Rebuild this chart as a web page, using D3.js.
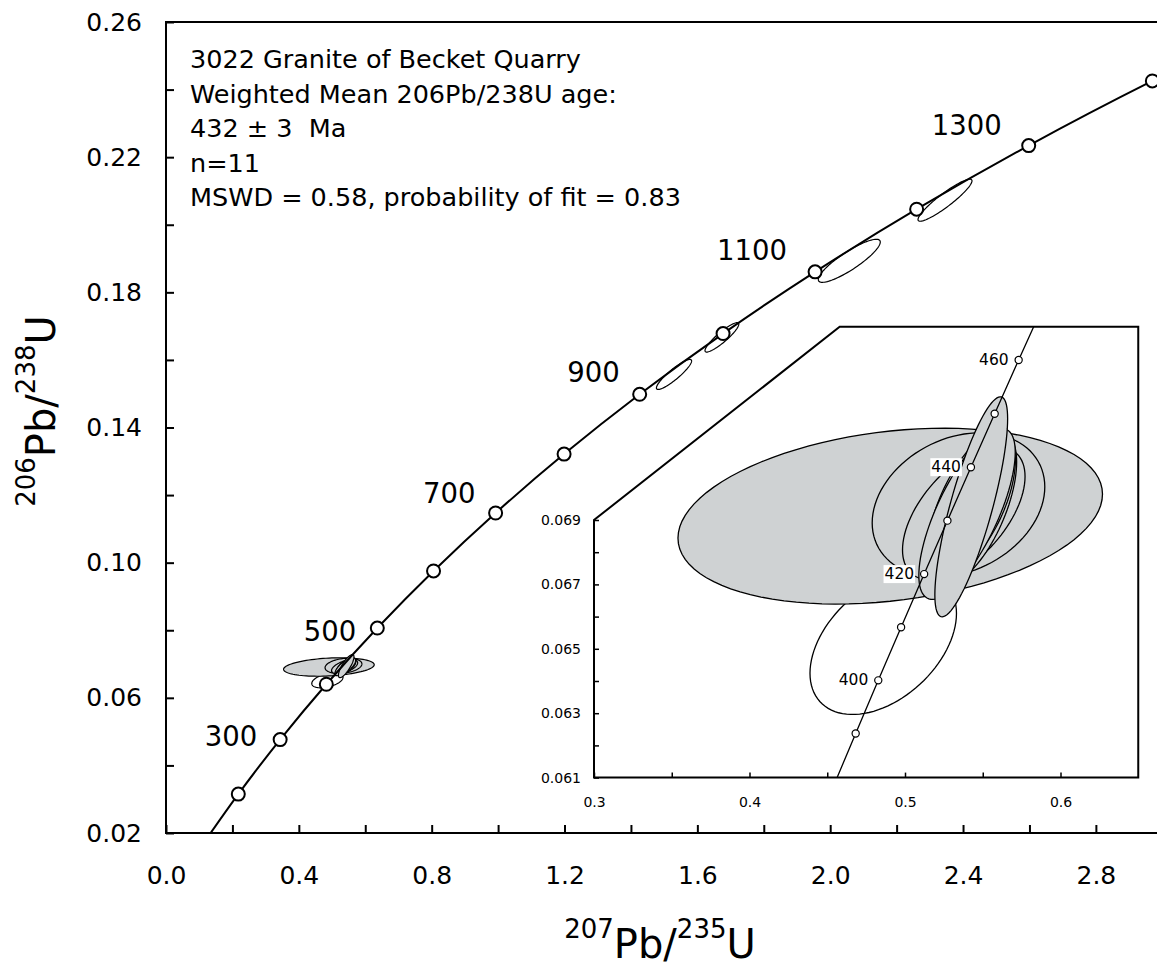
<!DOCTYPE html>
<html>
<head>
<meta charset="utf-8">
<script src="https://cdn.jsdelivr.net/npm/d3@7"></script>
<style>
  body { margin: 0; background: #fff; }
  svg { display: block; font-family: "DejaVu Sans", Verdana, sans-serif; }
</style>
</head>
<body>
<svg id="chart"></svg>
<script>
// Concordia curve (ages in Ma, 207Pb/235U and 206Pb/238U)
const concAges = [100, 200, 300, 400, 500, 600, 700, 800, 900, 1000, 1100, 1200, 1300, 1400, 1500];
const concX = [0.1035, 0.2177, 0.3437, 0.4828, 0.6363, 0.8056, 0.9925, 1.1987, 1.4263, 1.6774, 1.9545, 2.2603, 2.5977, 2.9701, 3.3810];
const concY = [0.01563, 0.03151, 0.04764, 0.06402, 0.08065, 0.09754, 0.11470, 0.13213, 0.14983, 0.16780, 0.18606, 0.20460, 0.22343, 0.24256, 0.26198];
const markedAges = [200, 300, 400, 500, 600, 700, 800, 900, 1000, 1100, 1200, 1300, 1400];
const labelAges = [300, 500, 700, 900, 1100, 1300];

// Concordia in the inset
const insetAges = [380, 390, 400, 410, 420, 430, 440, 450, 460, 470];
const insetX = [0.45389, 0.46828, 0.48281, 0.49749, 0.51231, 0.52728, 0.54239, 0.55766, 0.57308, 0.58864];
const insetY = [0.06072, 0.06237, 0.06402, 0.06567, 0.06732, 0.06898, 0.07064, 0.07230, 0.07397, 0.07563];
const insetMarked = [390, 400, 410, 420, 430, 440, 450, 460];
const insetLabelAges = [400, 420, 440, 460];

// Zircon analyses: centre, error half-extent in x and y, error correlation
const spotX    = [0.4860, 0.4905, 0.5344, 0.5378, 0.5429, 0.5460, 0.5399, 0.5426, 1.5297, 1.6739, 2.0575, 2.3457];
const spotY    = [0.06517, 0.06912, 0.06947, 0.06921, 0.06936, 0.06960, 0.06919, 0.06941, 0.15570, 0.16667, 0.18933, 0.20726];
const spotErrX = [0.0471, 0.1365, 0.0555, 0.0394, 0.0289, 0.0250, 0.0310, 0.0234, 0.0530, 0.0509, 0.0933, 0.0813];
const spotErrY = [0.00221, 0.00273, 0.00224, 0.00207, 0.0024, 0.0021, 0.002655, 0.003416, 0.00444, 0.00435, 0.00637, 0.00622];
const spotRho  = [0.42, 0.25, 0.25, 0.55, 0.6, 0.6, 0.72, 0.8, 0.9, 0.9, 0.87, 0.92];
const spotUsed = [false, true, true, true, true, true, true, true, false, false, false, false];

// Tick values and labels
const xTicks = [0, 0.2, 0.4, 0.6, 0.8, 1.0, 1.2, 1.4, 1.6, 1.8, 2.0, 2.2, 2.4, 2.6, 2.8, 3.0];
const xTickLabels = ["0.0", "0.4", "0.8", "1.2", "1.6", "2.0", "2.4", "2.8"];
const yTicks = [0.02, 0.04, 0.06, 0.08, 0.10, 0.12, 0.14, 0.16, 0.18, 0.20, 0.22, 0.24, 0.26];
const yTickLabels = ["0.02", "0.06", "0.10", "0.14", "0.18", "0.22", "0.26"];
const insetXTicks = [0.3, 0.35, 0.4, 0.45, 0.5, 0.55, 0.6];
const insetXTickLabels = ["0.3", "0.4", "0.5", "0.6"];
const insetYTicks = [0.061, 0.062, 0.063, 0.064, 0.065, 0.066, 0.067, 0.068, 0.069];
const insetYTickLabels = ["0.061", "0.063", "0.065", "0.067", "0.069"];

const notes = [
  "3022 Granite of Becket Quarry",
  "Weighted Mean 206Pb/238U age:",
  "432 \u00b1 3  Ma",
  "n=11",
  "MSWD = 0.58, probability of fit = 0.83"
];

const width = 1157, height = 966;
const svg = d3.select("#chart").attr("width", width).attr("height", height);

// Scales
const x = d3.scaleLinear().domain([0, 3.0]).range([166, 1162.3]);
const y = d3.scaleLinear().domain([0.02, 0.26]).range([833, 22]);
const xi = d3.scaleLinear().domain([0.3, 0.65]).range([594, 1138.25]);
const yi = d3.scaleLinear().domain([0.061, 0.075]).range([777.6, 326.8]);

const conc = concAges.map((a, i) => ({ age: a, x: concX[i], y: concY[i] }));
const concI = insetAges.map((a, i) => ({ age: a, x: insetX[i], y: insetY[i] }));
const spots = spotX.map((v, i) => ({ x: v, y: spotY[i], ex: spotErrX[i], ey: spotErrY[i], rho: spotRho[i], used: spotUsed[i] }));

function ellipsePts(d, sx, sy) {
  const k = Math.sqrt(1 - d.rho * d.rho);
  return d3.range(0, 96).map(j => {
    const t = j / 96 * 2 * Math.PI;
    return [sx(d.x + d.ex * Math.cos(t)), sy(d.y + d.ey * (d.rho * Math.cos(t) + k * Math.sin(t)))];
  });
}
const closed = d3.line().curve(d3.curveLinearClosed);

const defs = svg.append("defs");
defs.append("clipPath").attr("id", "mainClip")
  .append("rect").attr("x", 166).attr("y", 22).attr("width", 996).attr("height", 811);

// Main axes
const yAxis = d3.axisLeft(y).tickValues(yTicks).tickSizeInner(-8).tickSizeOuter(0).tickPadding(24)
  .tickFormat(d => { const s = d3.format(".2f")(d); return yTickLabels.includes(s) ? s : ""; });
const gy = svg.append("g").attr("transform", "translate(166,0)").call(yAxis);

const xAxis = d3.axisBottom(x).tickValues(xTicks).tickSizeInner(-8).tickSizeOuter(0).tickPadding(33)
  .tickFormat(d => { const s = d3.format(".1f")(d); return xTickLabels.includes(s) ? s : ""; });
const gx = svg.append("g").attr("transform", "translate(0,833)").call(xAxis);

[gx, gy].forEach(g => {
  g.select(".domain").remove();
  g.attr("font-family", null).attr("font-size", null);
  g.selectAll("line").attr("stroke", "#000").attr("stroke-width", 2);
  g.selectAll("text").attr("fill", "#000").style("font-size", "25px");
});

svg.append("rect").attr("x", 166).attr("y", 22).attr("width", 996).attr("height", 811)
  .attr("fill", "none").attr("stroke", "#000").attr("stroke-width", 2);

// Main plot contents
const plot = svg.append("g").attr("clip-path", "url(#mainClip)");

plot.selectAll(".spot")
  .data(spots)
  .enter()
  .append("path")
  .attr("d", d => closed(ellipsePts(d, x, y)))
  .attr("fill", d => d.used ? "#cfd2d3" : "#fff")
  .attr("stroke", "#000")
  .attr("stroke-width", 1.2);

plot.append("path")
  .datum(conc)
  .attr("d", d3.line().x(d => x(d.x)).y(d => y(d.y)).curve(d3.curveCatmullRom.alpha(0.5)))
  .attr("fill", "none")
  .attr("stroke", "#000")
  .attr("stroke-width", 2);

plot.selectAll(".age")
  .data(conc.filter(d => markedAges.includes(d.age)))
  .enter()
  .append("circle")
  .attr("cx", d => x(d.x))
  .attr("cy", d => y(d.y))
  .attr("r", 6.5)
  .attr("fill", "#fff")
  .attr("stroke", "#000")
  .attr("stroke-width", 2);

const labelOffset = { 300: [-23, -4], 500: [-21, 3], 700: [-20, -20], 900: [-20, -22], 1100: [-28, -22], 1300: [-27, -21] };
svg.selectAll(".ageLabel")
  .data(conc.filter(d => labelAges.includes(d.age)))
  .enter()
  .append("text")
  .attr("x", d => x(d.x) + labelOffset[d.age][0])
  .attr("y", d => y(d.y) + labelOffset[d.age][1])
  .attr("text-anchor", "end")
  .attr("dominant-baseline", "central")
  .style("font-size", "27.5px")
  .text(d => d.age);

// Notes
svg.append("g").selectAll("text")
  .data(notes)
  .enter()
  .append("text")
  .attr("x", 190)
  .attr("y", (d, i) => 68 + i * 34.5)
  .style("font-size", "25.5px")
  .style("white-space", "pre")
  .text(d => d);

// Axis titles
function isoTitle(g, parts) {
  const t = g.append("text").attr("text-anchor", "middle");
  parts.forEach(p => {
    t.append("tspan").attr("dy", p.dy).style("font-size", p.size + "px").text(p.text);
  });
  return t;
}
isoTitle(svg.append("g").attr("transform", "translate(660,958)"), [
  { text: "207", size: 26, dy: -20 }, { text: "Pb/", size: 40, dy: 20 },
  { text: "235", size: 26, dy: -20 }, { text: "U", size: 40, dy: 20 }
]);
isoTitle(svg.append("g").attr("transform", "translate(55,411) rotate(-90)"), [
  { text: "206", size: 26, dy: -20 }, { text: "Pb/", size: 40, dy: 20 },
  { text: "238", size: 26, dy: -20 }, { text: "U", size: 40, dy: 20 }
]);

// Inset
const frame = [[0.3, 0.061], [0.65, 0.061], [0.65, 0.075], [0.458, 0.075], [0.3, 0.069]]
  .map(p => [xi(p[0]), yi(p[1])]);
defs.append("clipPath").attr("id", "insetClip").append("path").attr("d", closed(frame));

svg.append("path").attr("d", closed(frame)).attr("fill", "#fff");

const inset = svg.append("g").attr("clip-path", "url(#insetClip)");
inset.selectAll(".spot")
  .data(spots.slice(0, 8))
  .enter()
  .append("path")
  .attr("d", d => closed(ellipsePts(d, xi, yi)))
  .attr("fill", d => d.used ? "#cfd2d3" : "#fff")
  .attr("stroke", "#000")
  .attr("stroke-width", 1.3);

inset.append("path")
  .datum(concI)
  .attr("d", d3.line().x(d => xi(d.x)).y(d => yi(d.y)))
  .attr("fill", "none")
  .attr("stroke", "#000")
  .attr("stroke-width", 1.3);

inset.selectAll(".age")
  .data(concI.filter(d => insetMarked.includes(d.age)))
  .enter()
  .append("circle")
  .attr("cx", d => xi(d.x))
  .attr("cy", d => yi(d.y))
  .attr("r", 3.6)
  .attr("fill", "#fff")
  .attr("stroke", "#000")
  .attr("stroke-width", 1.2);

const insetLabels = inset.selectAll(".ageLabel")
  .data(concI.filter(d => insetLabelAges.includes(d.age)))
  .enter()
  .append("g");
insetLabels.append("text")
  .attr("x", d => xi(d.x) - 10)
  .attr("y", d => yi(d.y))
  .attr("text-anchor", "end")
  .attr("dominant-baseline", "central")
  .style("font-size", "15.5px")
  .text(d => d.age);
insetLabels.each(function () {
  const g = d3.select(this);
  const b = g.select("text").node().getBBox();
  g.insert("rect", "text").attr("x", b.x - 1).attr("y", b.y).attr("width", b.width + 2).attr("height", b.height).attr("fill", "#fff");
});

const yiAxis = d3.axisLeft(yi).tickValues(insetYTicks).tickSizeInner(-5).tickSizeOuter(0).tickPadding(13)
  .tickFormat(d => { const s = d3.format(".3f")(d); return insetYTickLabels.includes(s) ? s : ""; });
const gyi = svg.append("g").attr("transform", "translate(594,0)").call(yiAxis);
const xiAxis = d3.axisBottom(xi).tickValues(insetXTicks).tickSizeInner(-5).tickSizeOuter(0).tickPadding(19)
  .tickFormat(d => { const s = d3.format(".1f")(d); return (insetXTickLabels.includes(s) && Math.abs(d * 10 - Math.round(d * 10)) < 1e-6) ? s : ""; });
const gxi = svg.append("g").attr("transform", "translate(0,777.6)").call(xiAxis);
[gxi, gyi].forEach(g => {
  g.select(".domain").remove();
  g.attr("font-family", null).attr("font-size", null);
  g.selectAll("line").attr("stroke", "#000").attr("stroke-width", 1.5);
  g.selectAll("text").attr("fill", "#000").style("font-size", "14px");
});

svg.append("path").attr("d", closed(frame))
  .attr("fill", "none").attr("stroke", "#000").attr("stroke-width", 2).attr("stroke-linejoin", "miter");
</script>
</body>
</html>
